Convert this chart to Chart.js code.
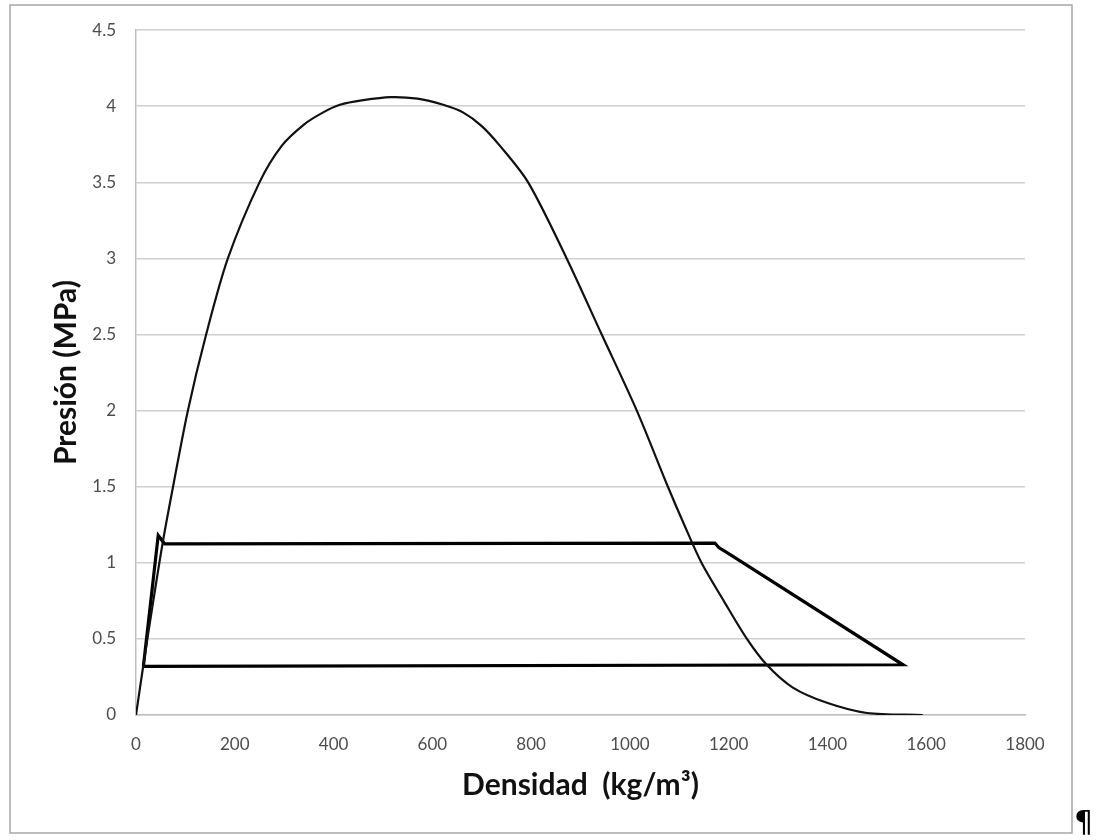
<!DOCTYPE html>
<html>
<head>
<meta charset="utf-8">
<script src="https://cdn.jsdelivr.net/npm/chart.js@4/dist/chart.umd.min.js"></script>
<style>
  html, body { margin: 0; padding: 0; background: #ffffff; }
  #wrap { width: 1109px; height: 840px; position: relative; }
</style>
</head>
<body>
<div id="wrap"><canvas id="c" width="1109" height="840"></canvas></div>
<script>
// Saturation dome: density (kg/m3) and pressure (MPa)
const domeDensity  = [0, 15, 35, 55, 75, 105, 142, 186, 250, 295, 340, 379, 413, 460, 515, 570, 622, 662, 700, 737, 794, 872, 943, 1014, 1077, 1110, 1145, 1190, 1237, 1277, 1330, 1399, 1480, 1593];
const domePressure = [0, 0.33, 0.75, 1.15, 1.5, 2.0, 2.5, 3.0, 3.5, 3.74, 3.88, 3.96, 4.01, 4.04, 4.06, 4.05, 4.01, 3.96, 3.87, 3.74, 3.5, 3.0, 2.5, 2.0, 1.5, 1.25, 1.0, 0.75, 0.5, 0.33, 0.18, 0.08, 0.013, 0.0];

// Refrigeration cycle path
const cycleDensity  = [15, 45, 58, 1172, 1180, 1200, 1553, 15];
const cyclePressure = [0.32, 1.18, 1.125, 1.13, 1.1, 1.06, 0.33, 0.32];

// Axis ticks
const xTicks = [0, 200, 400, 600, 800, 1000, 1200, 1400, 1600, 1800];
const yTicks = [0, 0.5, 1, 1.5, 2, 2.5, 3, 3.5, 4, 4.5];

const xTitle = 'Densidad  (kg/m³)';
const yTitle = 'Presión (MPa)';

const toPoints = (xs, ys) => xs.map((x, i) => ({ x: x, y: ys[i] }));

const tickFont = { family: "Lato, 'Open Sans', sans-serif", size: 17 };
const titleFont = { family: "Lato, 'Open Sans', sans-serif", size: 30, weight: 'bold' };

const framePlugin = {
  id: 'frame',
  beforeDraw(chart) {
    const ctx = chart.ctx;
    ctx.save();
    ctx.fillStyle = '#ffffff';
    ctx.fillRect(0, 0, chart.width, chart.height);
    ctx.strokeStyle = '#a6a6a6';
    ctx.lineWidth = 1.5;
    ctx.strokeRect(10, 5, 1062, 828);
    ctx.restore();
  },
  afterDraw(chart) {
    const ctx = chart.ctx;
    ctx.save();
    ctx.fillStyle = '#000000';
    ctx.font = "30px 'DejaVu Sans', sans-serif";
    ctx.textAlign = 'left';
    ctx.textBaseline = 'alphabetic';
    ctx.fillText('¶', 1074, 832);
    ctx.restore();
  }
};

new Chart(document.getElementById('c'), {
  type: 'scatter',
  data: {
    datasets: [
      {
        label: 'Domo',
        data: toPoints(domeDensity, domePressure),
        showLine: true,
        borderColor: '#111111',
        borderWidth: 2.2,
        pointRadius: 0,
        tension: 0.3,
        fill: false
      },
      {
        label: 'Ciclo',
        data: toPoints(cycleDensity, cyclePressure),
        showLine: true,
        borderColor: '#000000',
        borderWidth: 3.2,
        pointRadius: 0,
        tension: 0,
        fill: false
      }
    ]
  },
  options: {
    responsive: false,
    animation: false,
    devicePixelRatio: 1,
    layout: { padding: { left: 0, right: 84, top: 27, bottom: 0 } },
    plugins: {
      legend: { display: false },
      tooltip: { enabled: false }
    },
    scales: {
      x: {
        type: 'linear',
        min: xTicks[0],
        max: xTicks[xTicks.length - 1],
        afterBuildTicks(scale) { scale.ticks = xTicks.map(v => ({ value: v })); },
        afterFit(scale) { scale.height = 125; },
        grid: { display: false, drawTicks: false },
        border: { display: true, color: '#bfbfbf', width: 1.5 },
        ticks: { color: '#4d4d4d', font: tickFont, padding: 19, maxRotation: 0, autoSkip: false,
                 callback: (v) => String(v) },
        title: { display: true, text: xTitle, color: '#111111', font: titleFont, padding: { top: 0, bottom: 37 } }
      },
      y: {
        type: 'linear',
        min: yTicks[0],
        max: yTicks[yTicks.length - 1],
        afterBuildTicks(scale) { scale.ticks = yTicks.map(v => ({ value: v })); },
        afterFit(scale) { scale.width = 136; },
        grid: { display: true, drawTicks: false, color: '#cfcfcf', lineWidth: 1.6 },
        border: { display: true, color: '#bfbfbf', width: 1.5 },
        ticks: { color: '#4d4d4d', font: tickFont, padding: 20, autoSkip: false,
                 callback: (v) => String(v) },
        title: { display: true, text: yTitle, color: '#111111', font: titleFont, padding: { top: 48, bottom: 0 } }
      }
    }
  },
  plugins: [framePlugin]
});
</script>
</body>
</html>
